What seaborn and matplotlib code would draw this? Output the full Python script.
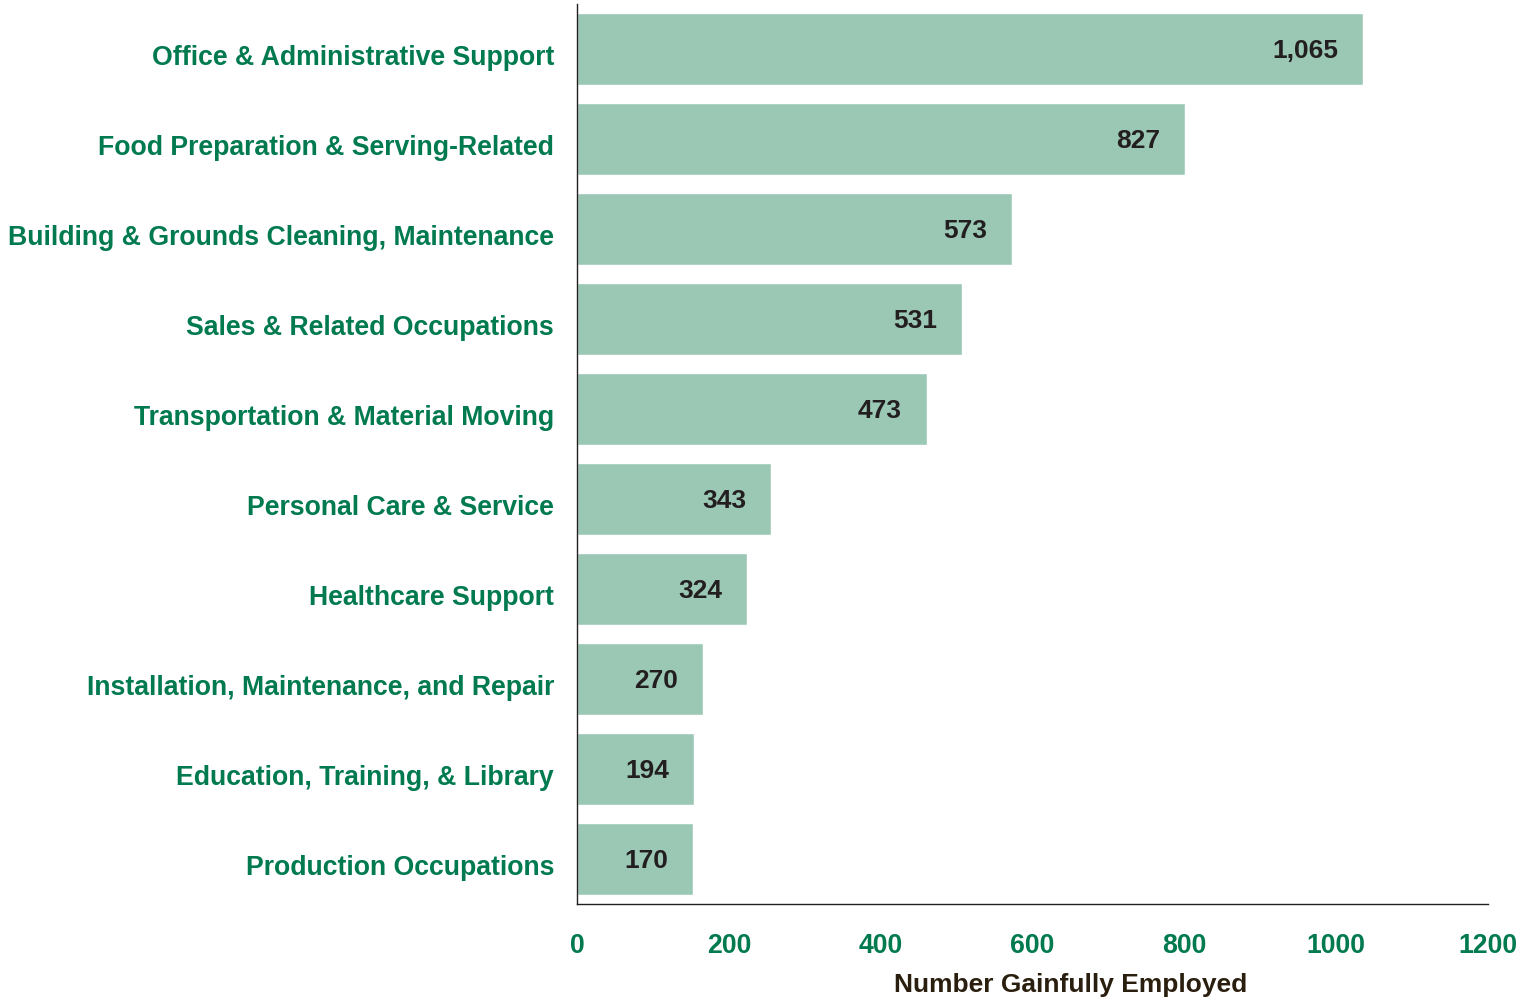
import matplotlib
matplotlib.use("Agg")
import matplotlib.pyplot as plt
import matplotlib.transforms as mtransforms
import pandas as pd
import seaborn as sns

# Occupations, top to bottom
occupations = [
    "Office & Administrative Support",
    "Food Preparation & Serving-Related",
    "Building & Grounds Cleaning, Maintenance",
    "Sales & Related Occupations",
    "Transportation & Material Moving",
    "Personal Care & Service",
    "Healthcare Support",
    "Installation, Maintenance, and Repair",
    "Education, Training, & Library",
    "Production Occupations",
]
# bar lengths as drawn in the picture
bar_lengths = [1036, 801, 573, 507, 461, 256, 224, 166, 154, 153]
# numbers printed on the bars
value_labels = ["1,065", "827", "573", "531", "473", "343", "324", "270", "194", "170"]
x_ticks = [0, 200, 400, 600, 800, 1000, 1200]

GREEN = "#007A4E"
BAR = "#9BC8B5"
DARK = "#231F20"

sns.set_style("white")
plt.rcParams["font.family"] = ["Liberation Sans", "DejaVu Sans"]
plt.rcParams["font.weight"] = "bold"

df = pd.DataFrame({"occupation": occupations, "employed": bar_lengths})

fig = plt.figure(figsize=(15.31, 9.99), dpi=100)
ax = fig.add_axes([0.3769, 0.0951, 0.5950, 0.9009])

sns.barplot(data=df, x="employed", y="occupation", orient="h",
            color=BAR, width=0.81, saturation=1, ax=ax)

# value labels inside the bar ends
for i, (v, lab) in enumerate(zip(bar_lengths, value_labels)):
    ax.annotate(lab, xy=(v, i), xytext=(-25, -2), textcoords="offset pixels",
                ha="right", va="center", fontsize=19, fontweight="bold",
                color=DARK)

ax.set_xlim(0, 1200)
ax.set_ylim(len(occupations) - 0.5, -0.5)
ax.set_xticks(x_ticks)
ax.set_xticklabels([str(t) for t in x_ticks])
ax.tick_params(axis="both", length=0, labelsize=19.2, labelcolor=GREEN)
ax.tick_params(axis="y", pad=16.5)
ax.tick_params(axis="x", pad=21)
for t in ax.get_xticklabels() + ax.get_yticklabels():
    t.set_fontweight("bold")

# category labels sit a little below the bar centres
shift = mtransforms.ScaledTranslation(0, -6 / 100, fig.dpi_scale_trans)
for t in ax.get_yticklabels():
    t.set_transform(t.get_transform() + shift)

ax.set_ylabel("")
ax.set_xlabel("Number Gainfully Employed", fontsize=19, fontweight="bold",
              color="#2A1E0E")
ax.xaxis.set_label_coords(0.542, -0.077)

for side in ["top", "right"]:
    ax.spines[side].set_visible(False)
for side in ["left", "bottom"]:
    ax.spines[side].set_color(DARK)
    ax.spines[side].set_linewidth(1.0)

fig.savefig("out.png", dpi=100, facecolor="white")
